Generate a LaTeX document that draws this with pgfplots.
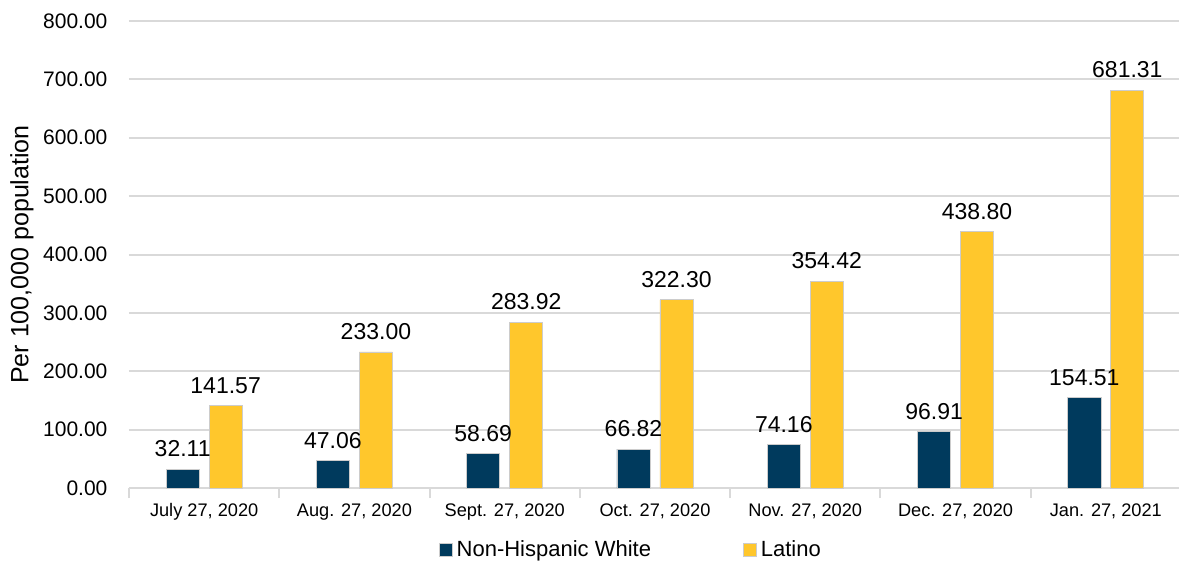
\documentclass[border=0pt]{standalone}
\usepackage{fontspec}
\setmainfont{Liberation Sans}
\usepackage{pgfplots}
\pgfplotsset{compat=1.18}
\definecolor{navy}{HTML}{003A5D}
\definecolor{gold}{HTML}{FFC72C}
\definecolor{gridgray}{HTML}{D9D9D9}
\begin{document}
\begin{tikzpicture}
\begin{axis}[
  name=ax,
  scale only axis, width=526pt, height=233.5pt,
  xmin=-0.5, xmax=6.5, ymin=0, ymax=800,
  ybar, bar width=0.22,
  axis x line*=bottom, axis y line*=left,
  x axis line style={gridgray, line width=1pt, -},
  y axis line style={draw=none},
  ytick={0,100,...,800},
  ytick style={draw=none},
  ymajorgrids, grid style={gridgray, line width=1pt},
  yticklabel style={xshift=-3pt, font=\fontsize{10.5}{12}\selectfont, /pgf/number format/.cd, fixed, fixed zerofill, precision=2, assume math mode=true},
  xtick={0,...,6},
  xticklabels={{July 27, 2020},{Aug. 27, 2020},{Sept. 27, 2020},{Oct. 27, 2020},{Nov. 27, 2020},{Dec. 27, 2020},{Jan. 27, 2021}},
  xticklabel style={font=\fontsize{9.1}{11}\selectfont},
  major x tick style={draw=none},
  minor xtick={-0.5,0.5,...,6.5},
  minor x tick style={gridgray, line width=1pt},
  minor tick length=5pt, tick align=outside,
  ylabel={Per 100,000 population},
  ylabel style={font=\fontsize{12.5}{14}\selectfont, at={(axis description cs:-0.1017,0.5)}, anchor=center},
  nodes near coords={\pgfmathprintnumber[fixed,fixed zerofill,precision=2,assume math mode=true]{\pgfplotspointmeta}},
  nodes near coords style={font=\fontsize{11.5}{13}\selectfont, black, yshift=2.5pt},
  legend style={at={(0.478,-0.133)}, anchor=center, draw=none, legend columns=-1, font=\fontsize{11}{13}\selectfont, /tikz/every even column/.append style={column sep=44pt}},
  legend image code/.code={\fill[#1] (0pt,-3.2pt) rectangle (6.5pt,3.2pt);},
]
\addplot[fill=navy, draw=gray!40, line width=0.4pt, bar shift=-0.143] coordinates {(0,32.11) (1,47.06) (2,58.69) (3,66.82) (4,74.16) (5,96.91) (6,154.51)};
\addplot[fill=gold, draw=gray!40, line width=0.4pt, bar shift=0.143] coordinates {(0,141.57) (1,233.00) (2,283.92) (3,322.30) (4,354.42) (5,438.80) (6,681.31)};
\legend{Non-Hispanic White, Latino}
\end{axis}
\pgfresetboundingbox
\path ([shift={(-64.5pt,-37pt)}]ax.south west) rectangle ([shift={(-1pt,10.5pt)}]ax.north east);
\end{tikzpicture}
\end{document}
